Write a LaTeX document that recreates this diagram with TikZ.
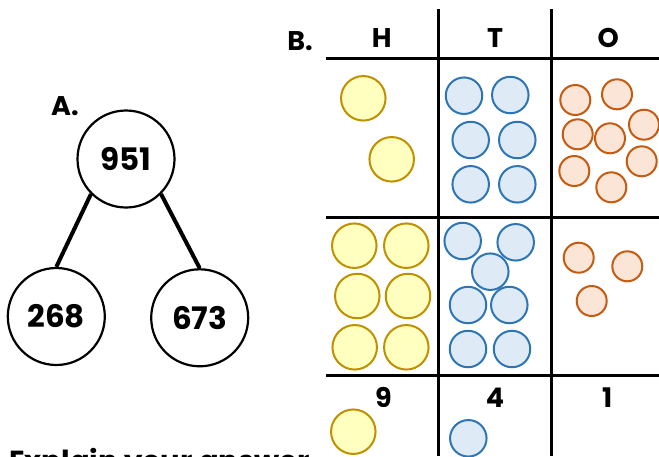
\documentclass[tikz,border=0pt]{standalone}
\usepackage{fontspec}
\setmainfont{Poppins}
\definecolor{goldline}{RGB}{191,144,0}
\definecolor{goldfill}{RGB}{255,255,191}
\definecolor{blueline}{RGB}{46,117,182}
\definecolor{bluefill}{RGB}{222,235,247}
\definecolor{orangeline}{RGB}{197,90,17}
\definecolor{orangefill}{RGB}{251,229,214}
\begin{document}
\begin{tikzpicture}[x=1pt,y=-1pt]
    \tikzstyle{part}=[circle,draw=black,line width=2.2pt,minimum size=97pt,inner sep=0pt,font=\fontsize{31}{31}\selectfont\bfseries]
    \tikzstyle{label}=[inner sep=0pt,anchor=base,font=\fontsize{27}{27}\selectfont\bfseries]
    \tikzstyle{hundred}=[circle,draw=goldline,fill=goldfill,line width=2pt,minimum size=44.5pt,inner sep=0pt]
    \tikzstyle{ten}=[circle,draw=blueline,fill=bluefill,line width=2pt,minimum size=36.5pt,inner sep=0pt]
    \tikzstyle{one}=[circle,draw=orangeline,fill=orangefill,line width=2pt,minimum size=30pt,inner sep=0pt]
    \useasboundingbox (0,0) rectangle (659,456);

    % part-whole model
    \node[label] (A) at (65,115) {A.};
    \node[part] (whole) at (126,159) {951};
    \node[part] (left) at (56.3,316.5) {268};
    \node[part] (right) at (199.7,317.8) {673};
    \draw[line width=4pt] (whole.south west) -- (left.north);
    \draw[line width=4pt] (whole.south east) -- (right.north);

    % place value chart
    \node[label] (B) at (300,50.7) {B.};
    \foreach \col/\x in {H/381.7, T/495, O/608.3}
        \node[label] (head-\col) at (\x,47.3) {\col};
    \foreach \col/\x/\d in {H/383.3/9, T/495/4, O/607.3/1}
        \node[label] (digit-\col) at (\x,407.3) {\d};
    \foreach \x in {438.3, 551.7}
        \draw[line width=3pt] (\x,9.3) -- (\x,456);
    \foreach \y in {58.7, 217.7, 375.7}
        \draw[line width=3pt] (326,\y) -- (659,\y);

    % counters, first number
    \foreach \x/\y [count=\i] in {363.3/98.3, 391.7/159.3}
        \node[hundred] (h1-\i) at (\x,\y) {};
    \foreach \x/\y [count=\i] in {464/95.7, 510.3/95, 470.7/140, 517.3/140, 470.7/184.3, 517.3/184.3}
        \node[ten] (t1-\i) at (\x,\y) {};
    \foreach \x/\y [count=\i] in {575.3/100, 617/94.3, 644/124.7, 577.7/134.3, 610/138.3, 641.7/161.3, 574.3/171, 611.3/187.3}
        \node[one] (o1-\i) at (\x,\y) {};

    % counters, second number
    \foreach \x/\y [count=\i] in {354.3/245.7, 406.3/245.7, 357.3/296, 408/296, 354.7/347.3, 406.3/347.3}
        \node[hundred] (h2-\i) at (\x,\y) {};
    \foreach \x/\y [count=\i] in {462.7/241, 515.7/242.3, 490.3/271.7, 468/305, 509.3/305, 468/349, 512/349}
        \node[ten] (t2-\i) at (\x,\y) {};
    \foreach \x/\y [count=\i] in {578.7/257.7, 627.3/266.3, 591.7/301}
        \node[one] (o2-\i) at (\x,\y) {};

    % regrouped counters
    \node[hundred] (h3-1) at (353.3,431.7) {};
    \node[ten] (t3-1) at (468.3,438.3) {};

    % question line runs on below the chart
    \node[label,anchor=base west,font=\fontsize{29}{29}\selectfont\bfseries] (explain) at (9,471) {Explain your answer};
\end{tikzpicture}
\end{document}
